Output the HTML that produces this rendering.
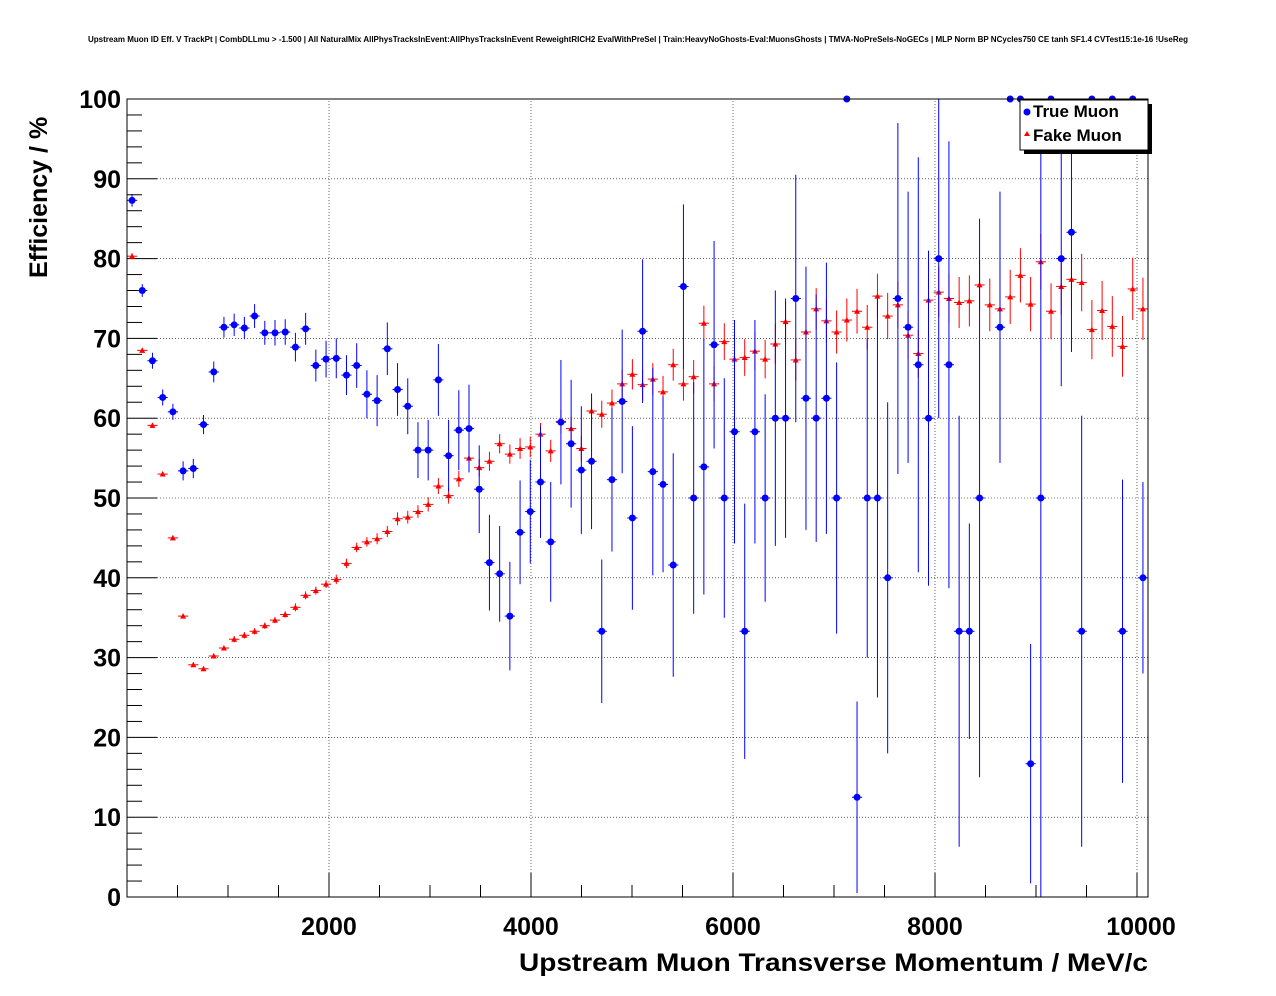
<!DOCTYPE html>
<html><head><meta charset="utf-8"><style>
body{margin:0;background:#fff;}
svg{display:block;font-family:"Liberation Sans",sans-serif;}
</style></head><body>
<svg id="chart" width="1276" height="996" viewBox="0 0 1276 996" xmlns="http://www.w3.org/2000/svg">
<rect x="0" y="0" width="1276" height="996" fill="#fff"/>
<text x="638" y="42" text-anchor="middle" font-size="8" font-weight="bold" textLength="1100" lengthAdjust="spacingAndGlyphs">Upstream Muon ID Eff. V TrackPt | CombDLLmu &gt; -1.500 | All NaturalMix AllPhysTracksInEvent:AllPhysTracksInEvent ReweightRICH2 EvalWithPreSel | Train:HeavyNoGhosts-Eval:MuonsGhosts | TMVA-NoPreSels-NoGECs | MLP Norm BP NCycles750 CE tanh SF1.4 CVTest15:1e-16 !UseReg</text>
<g id="grid"></g>
<g id="axes"></g>
<g id="series-fake"></g>
<g id="series-true"></g>
<rect x="127" y="99" width="1021" height="798" fill="none" stroke="#000" stroke-width="1"/>
<text transform="translate(47,278) rotate(-90)" font-size="25" font-weight="bold">Efficiency / %</text>
<text x="1148" y="971" text-anchor="end" font-size="25" font-weight="bold" textLength="629" lengthAdjust="spacingAndGlyphs">Upstream Muon Transverse Momentum / MeV/c</text>
<g>
<rect x="1024" y="104" width="128" height="50" fill="#000"/>
<rect x="1020" y="100" width="128" height="50" fill="#fff" stroke="#000" stroke-width="1"/>
<circle cx="1027" cy="112" r="3.5" fill="#0000ff"/>
<text x="1033" y="117" font-size="17" font-weight="bold">True Muon</text>
<polygon points="1027,131 1024,136 1030,136" fill="#ff0000"/>
<text x="1033" y="141" font-size="17" font-weight="bold">Fake Muon</text>
</g>
</svg>
<script>
const trueVals=[87.3,76,67.2,62.6,60.8,53.4,53.7,59.2,65.8,71.4,71.7,71.3,72.8,70.7,70.7,70.8,68.9,71.2,66.6,67.4,67.5,65.4,66.6,63,62.2,68.7,63.6,61.5,56,56,64.8,55.3,58.5,58.7,51.1,41.9,40.5,35.2,45.7,48.3,52,44.5,59.5,56.8,53.5,54.6,33.3,52.3,62.1,47.5,70.9,53.3,51.7,41.6,76.5,50,53.9,69.2,50,58.3,33.3,58.3,50,60,60,75,62.5,60,62.5,50,100,12.5,50,50,40,75,71.4,66.7,60,80,66.7,33.3,33.3,50,null,71.4,100,100,16.7,50,100,80,83.3,33.3,100,null,100,33.3,100,40];
const trueErrs=[0.8,0.8,1,1,1,1.2,1.2,1.2,1.3,1.3,1.4,1.4,1.5,1.5,1.6,1.6,1.8,2,2,2.3,2.5,2.5,2.8,3,3.2,3.3,3.3,3.5,3.5,3.8,4.5,4.5,5,5.5,5.5,6,6,6.8,6.5,6.5,7,7.5,7.8,8,8,8.5,9,9,9,11.5,9,13,11,14,10.3,14.5,16,13,15,14,16,14,13,16,15,15.5,16.5,15.5,17,17,0,12,20,25,22,22,17,26,21,20,28,27,13.5,35,0,17,0,0,15,50,0,16,15,27,0,0,0,19,0,12];
const fakeVals=[80.3,68.5,59.1,53,45,35.2,29.1,28.6,30.2,31.2,32.3,32.8,33.3,34,34.7,35.4,36.3,37.8,38.4,39.2,39.8,41.8,43.8,44.5,44.9,45.8,47.4,47.6,48.3,49.2,51.5,50.3,52.4,55,53.8,54.6,56.8,55.5,56.2,56.4,58,55.9,59.6,58.7,56.2,60.9,60.5,61.9,64.3,65.5,64.2,64.9,63.3,66.7,64.3,65.2,71.9,64.3,69.6,67.4,67.6,68.4,67.4,69.3,72.1,67.3,70.8,73.7,72.2,70.8,72.3,73.4,71.4,75.3,72.8,74.2,70.4,68.1,74.8,75.8,75,74.5,74.7,76.7,74.2,73.7,75.2,77.9,74.3,79.6,73.4,76.5,77.4,77,71.1,73.5,71.5,69,76.2,73.7];
const fakeErrs=[0.4,0.3,0.3,0.3,0.3,0.3,0.3,0.3,0.3,0.3,0.4,0.4,0.4,0.4,0.4,0.4,0.5,0.5,0.5,0.5,0.6,0.6,0.6,0.6,0.7,0.7,0.8,0.8,0.8,0.9,1,1,1,1.1,1.1,1.2,1.2,1.2,1.3,1.3,1.4,1.4,1.5,1.5,1.6,1.6,1.7,1.7,1.8,1.9,1.9,2,2,2,2.1,2.1,2.2,2.2,2.3,2.3,2.3,2.4,2.4,2.5,2.5,2.6,2.6,2.6,2.7,2.7,2.7,2.8,2.8,2.8,2.9,2.9,3,3,3,3.1,3.1,3.2,3.2,3.2,3.3,3.3,3.4,3.4,3.4,3.5,3.5,3.5,3.6,3.6,3.7,3.7,3.8,3.8,3.9,3.9];
const xTicks=[2000,4000,6000,8000,10000];
const yTicks=[0,10,20,30,40,50,60,70,80,90,100];
const binWidth=101.1;
const NS="http://www.w3.org/2000/svg";
const X0=127,X1=1148,Y0=897,Y1=99,XMAX=10109;
function xs(v){return X0+(X1-X0)*v/XMAX;}
function ys(v){return Y0-(Y0-Y1)*v/100;}
function mk(tag,attrs,parent){const e=document.createElementNS(NS,tag);for(const k in attrs)e.setAttribute(k,attrs[k]);parent.appendChild(e);return e;}
const grid=document.getElementById('grid'),axes=document.getElementById('axes');
xTicks.forEach((t,k)=>{
  const l=mk('line',{x1:xs(t),x2:xs(t),y1:Y0,y2:Y1,stroke:'#000','stroke-width':0.6,'stroke-dasharray':'1,2'},grid);
  
  
  const tk=mk('line',{x1:xs(t),x2:xs(t),y1:Y0,y2:Y0-24,stroke:'#000'},axes);
  
  
  const tx=mk('text',{x:xs(t)+(k===xTicks.length-1?4:0),y:935,'text-anchor':'middle','font-size':25,'font-weight':'bold'},axes);
  tx.textContent=t;
  
  
});
for(let v=500;v<XMAX;v+=500){if(v%2000===0)continue;const m=mk('line',{x1:xs(v),x2:xs(v),y1:Y0,y2:Y0-12,stroke:'#000'},axes);
  
  }
yTicks.forEach(t=>{
  if(t>0&&t<100){const l=mk('line',{x1:X0,x2:X1,y1:ys(t),y2:ys(t),stroke:'#000','stroke-width':0.6,'stroke-dasharray':'1,2'},grid);
  
  }
  const tk=mk('line',{x1:X0,x2:X0+30,y1:ys(t),y2:ys(t),stroke:'#000'},axes);
  
  
  const tx=mk('text',{x:121,y:ys(t)+9,'text-anchor':'end','font-size':25,'font-weight':'bold'},axes);
  tx.textContent=t;
  
  
});
for(let v=2;v<100;v+=2){if(v%10===0)continue;const m=mk('line',{x1:X0,x2:X0+15,y1:ys(v),y2:ys(v),stroke:'#000'},axes);
  
  }
function drawSeries(vals,errs,color,gid,shape){
  const g=document.getElementById(gid);
  vals.forEach((v,i)=>{
    if(v===null)return;
    const c=binWidth*i+50,px=xs(c),py=ys(v),e=errs[i]||0;
    const lo=ys(Math.max(0,v-e)),hi=ys(Math.min(100,v+e));
    const eb=mk('line',{x1:px,x2:px,y1:lo,y2:hi,stroke:color,'stroke-width':1},g);
    
    
    const hb=mk('line',{x1:xs(c-binWidth/2),x2:xs(c+binWidth/2),y1:py,y2:py,stroke:color,'stroke-width':1},g);
    
    
    let m;
    if(shape==='circle')m=mk('circle',{cx:px,cy:py,r:3.5,fill:color},g);
    else m=mk('polygon',{points:`${px},${py-3} ${px-3},${py+2.5} ${px+3},${py+2.5}`,fill:color},g);
    
    
  });
}
drawSeries(fakeVals,fakeErrs,'#ff0000','series-fake','tri');
drawSeries(trueVals,trueErrs,'#0000ff','series-true','circle');
</script>
</body></html>
